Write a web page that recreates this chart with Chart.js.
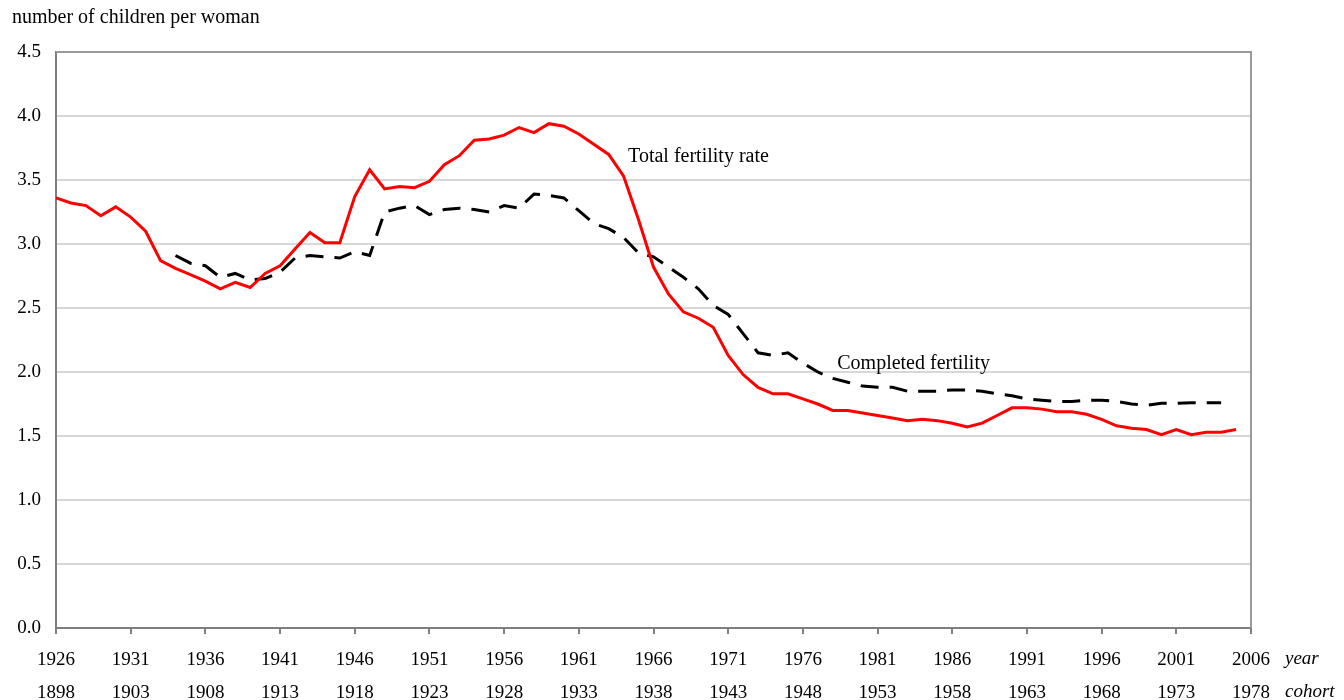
<!DOCTYPE html>
<html>
<head>
<meta charset="utf-8">
<script src="https://cdn.jsdelivr.net/npm/chart.js@4.4.1/dist/chart.umd.min.js"></script>
<style>
  html, body { margin: 0; padding: 0; background: #fff; }
  #wrap { width: 1344px; height: 700px; }
</style>
</head>
<body>
<div id="wrap"><canvas id="c" width="1344" height="700"></canvas></div>
<script>
// --- data ---
const years = [];
for (let y = 1926; y <= 2006; y++) years.push(y);
const cohortOffset = 28; // cohort row = year - 28

// total fertility rate, 1926..2006
const tfr = [
  3.36, 3.32, 3.30, 3.22, 3.29, 3.21, 3.10, 2.87, 2.81, 2.76, // 1926-1935
  2.71, 2.65, 2.70, 2.66, 2.77, 2.83, 2.96, 3.09, 3.01, 3.01, // 1936-1945
  3.37, 3.58, 3.43, 3.45, 3.44, 3.49, 3.62, 3.69, 3.81, 3.82, // 1946-1955
  3.85, 3.91, 3.87, 3.94, 3.92, 3.86, 3.78, 3.70, 3.53, 3.19, // 1956-1965
  2.82, 2.61, 2.47, 2.42, 2.35, 2.13, 1.98, 1.88, 1.83, 1.83, // 1966-1975
  1.79, 1.75, 1.70, 1.70, 1.68, 1.66, 1.64, 1.62, 1.63, 1.62, // 1976-1985
  1.60, 1.57, 1.60, 1.66, 1.72, 1.72, 1.71, 1.69, 1.69, 1.67, // 1986-1995
  1.63, 1.58, 1.56, 1.55, 1.51, 1.55, 1.51, 1.53, 1.53, 1.55, // 1996-2005
  null                                                        // 2006
];

// completed fertility (cohort), plotted against year axis
const completed = [
  null, null, null, null, null, null, null, null,             // 1926-1933
  2.91, 2.85,                                                 // 1934-1935
  2.83, 2.74, 2.77, 2.72, 2.73, 2.78, 2.89, 2.91, 2.90, 2.89, // 1936-1945
  2.94, 2.91, 3.25, 3.28, 3.30, 3.23, 3.27, 3.28, 3.27, 3.25, // 1946-1955
  3.30, 3.28, 3.39, 3.38, 3.36, 3.26, 3.16, 3.12, 3.05, 2.93, // 1956-1965
  2.90, 2.82, 2.74, 2.65, 2.52, 2.45, 2.30, 2.15, 2.13, 2.15, // 1966-1975
  2.07, 2.00, 1.95, 1.92, 1.89, 1.88, 1.88, 1.85, 1.85, 1.85, // 1976-1985
  1.86, 1.86, 1.85, 1.83, 1.815, 1.79, 1.78, 1.77, 1.77, 1.78, // 1986-1995
  1.78, 1.77, 1.75, 1.74, 1.755, 1.755, 1.76, 1.76, 1.76,     // 1996-2004
  null, null                                                  // 2005-2006
];

const yTicks = [0, 0.5, 1, 1.5, 2, 2.5, 3, 3.5, 4, 4.5];

// text labels placed in data units (year, value)
const notes = [
  { text: 'Total fertility rate', year: 1964.3, value: 3.64 },
  { text: 'Completed fertility',  year: 1978.3, value: 2.02 }
];

const SERIF = '"Liberation Serif", "DejaVu Serif", serif';

const extras = {
  id: 'extras',
  afterDraw(chart) {
    const ctx = chart.ctx, a = chart.chartArea;
    const xs = chart.scales.x, ys = chart.scales.y;
    ctx.save();
    // frame top + right
    ctx.strokeStyle = '#9a9a9a';
    ctx.lineWidth = 2;
    ctx.beginPath();
    ctx.moveTo(a.left, a.top);
    ctx.lineTo(a.right, a.top);
    ctx.lineTo(a.right, a.bottom);
    ctx.stroke();

    ctx.fillStyle = '#000';
    ctx.textBaseline = 'alphabetic';
    ctx.textAlign = 'left';
    ctx.font = '20px ' + SERIF;
    notes.forEach(n => {
      const px = xs.getPixelForValue(n.year - years[0]);
      ctx.fillText(n.text, px, ys.getPixelForValue(n.value));
    });

    // axis title
    ctx.font = '20px ' + SERIF;
    ctx.textBaseline = 'middle';
    ctx.fillText('number of children per woman', 12, 18);

    // row captions
    ctx.font = 'italic 19px ' + SERIF;
    ctx.fillText('year', 1285, 659);
    ctx.fillText('cohort', 1285, 692);
    ctx.restore();
  }
};

new Chart(document.getElementById('c'), {
  type: 'line',
  data: {
    labels: years,
    datasets: [
      {
        label: 'Total fertility rate',
        data: tfr,
        borderColor: '#ff0000',
        borderWidth: 3,
        pointRadius: 0,
        tension: 0,
        spanGaps: false
      },
      {
        label: 'Completed fertility',
        data: completed,
        borderColor: '#000000',
        borderWidth: 3,
        borderDash: [18, 11],
        pointRadius: 0,
        tension: 0,
        spanGaps: false
      }
    ]
  },
  options: {
    responsive: false,
    animation: false,
    layout: { padding: { top: 52, right: 93, left: 0, bottom: 0 } },
    plugins: {
      legend: { display: false },
      tooltip: { enabled: false }
    },
    scales: {
      x: {
        offset: false,
        afterFit: s => { s.height = 72; },
        border: { display: true, color: '#7f7f7f', width: 2 },
        grid: {
          drawOnChartArea: false,
          drawTicks: true,
          tickLength: 6,
          color: '#7f7f7f',
          lineWidth: 2
        },
        ticks: {
          autoSkip: false,
          maxRotation: 0,
          padding: 9,
          color: '#000',
          font: { family: SERIF, size: 19, lineHeight: 1.74 },
          callback: function(v, i) {
            const yr = years[i];
            if ((yr - 1926) % 5 !== 0) return null;
            return [String(yr), String(yr - cohortOffset)];
          }
        }
      },
      y: {
        min: 0,
        max: 4.5,
        afterFit: s => { s.width = 56; },
        afterBuildTicks: s => { s.ticks = yTicks.map(v => ({ value: v })); },
        border: { display: true, color: '#7f7f7f', width: 2 },
        grid: {
          drawTicks: false,
          lineWidth: 2,
          color: ctx => (ctx.tick && ctx.tick.value === 4.5) ? '#9a9a9a' : '#d8d8d8'
        },
        ticks: {
          padding: 15,
          color: '#000',
          font: { family: SERIF, size: 19 },
          callback: v => Number(v).toFixed(1)
        }
      }
    }
  },
  plugins: [extras]
});
</script>
</body>
</html>
